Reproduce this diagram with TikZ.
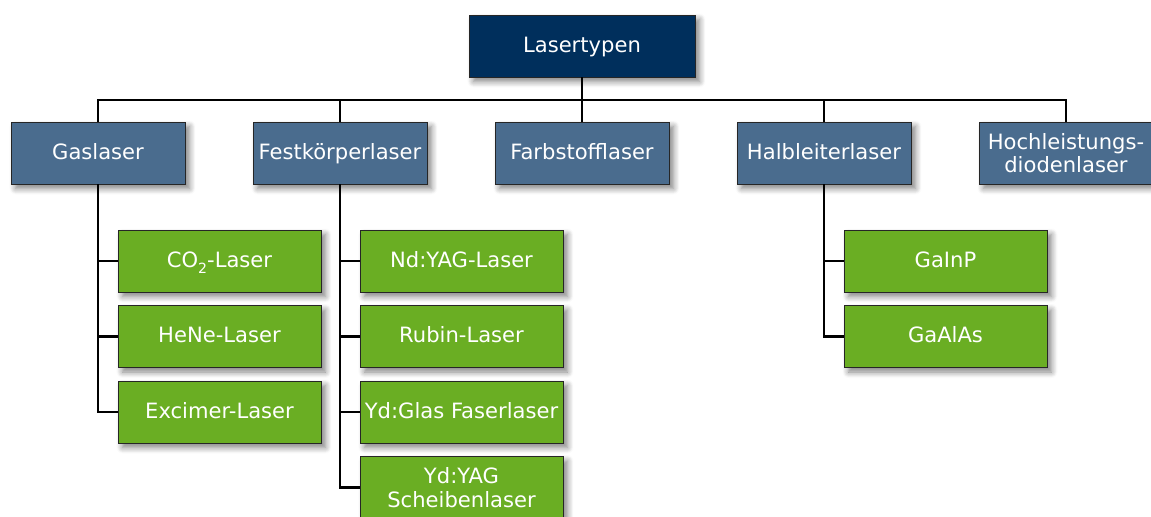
\documentclass[tikz,border=0pt]{standalone}
\usepackage{fontspec}
\setmainfont{DejaVu Sans}
\usepackage{tikz}
\usetikzlibrary{positioning,shadows.blur}
\definecolor{rootblue}{RGB}{0,47,92}
\definecolor{typeblue}{RGB}{74,108,142}
\definecolor{lasergreen}{RGB}{106,174,35}
\tikzstyle{boxshadow}   = [blur shadow={shadow xshift=0.09cm, shadow yshift=-0.09cm, shadow blur steps=8, shadow blur radius=0.12cm, shadow opacity=50}]
\tikzstyle{box}         = [rectangle, text centered, draw=black!85, text=white, inner xsep=1pt, minimum height=1.24cm, boxshadow]
\tikzstyle{oneline}     = [text height=1.8ex, text depth=0.45ex]
\tikzstyle{rootbox}     = [box, oneline, fill=rootblue, minimum width=4.52cm]
\tikzstyle{typebox}     = [box, oneline, fill=typeblue, minimum width=3.48cm]
\tikzstyle{typeboxtwo}  = [box, align=center, fill=typeblue, minimum width=3.48cm]
\tikzstyle{laserbox}    = [box, oneline, fill=lasergreen, minimum width=4.06cm]
\tikzstyle{laserboxtwo} = [box, align=center, fill=lasergreen, minimum width=4.06cm]
\tikzstyle{line}        = [draw=black, line width=1.4pt]

\begin{document}
\begin{tikzpicture}[node distance=2cm, font=\fontsize{12}{13.4}\selectfont]
            \useasboundingbox (-11.64,0.92) rectangle (11.38,-9.40);
            %Create root and laser types
            \node (lasertypen)   [rootbox] {Lasertypen};
            \node (farbstoff)    [typebox, below of = lasertypen, yshift=-0.14cm] {Farbstofflaser};
            \node (festkoerper)  [typebox, left of = farbstoff, xshift=-2.84cm]   {Festkörperlaser};
            \node (gaslaser)     [typebox, left of = festkoerper, xshift=-2.84cm] {Gaslaser};
            \node (halbleiter)   [typebox, right of = farbstoff, xshift=2.84cm]   {Halbleiterlaser};
            \node (hochleistung) [typeboxtwo, right of = halbleiter, xshift=2.84cm] {Hochleistungs-\\diodenlaser};
            \coordinate[below of = lasertypen, yshift=0.92cm] (bus);
            %Create gas lasers
            \node (co2)      [laserbox, below of = gaslaser, xshift=2.43cm, yshift=-0.16cm] {CO\raisebox{-0.55ex}{\footnotesize 2}-Laser};
            \node (hene)     [laserbox, below of = co2, yshift=0.49cm]  {HeNe-Laser};
            \node (excimer)  [laserbox, below of = hene, yshift=0.49cm] {Excimer-Laser};
            %Create solid state lasers
            \node (ndyag)    [laserbox, below of = festkoerper, xshift=2.43cm, yshift=-0.16cm] {Nd:YAG-Laser};
            \node (rubin)    [laserbox, below of = ndyag, yshift=0.49cm] {Rubin-Laser};
            \node (faser)    [laserbox, below of = rubin, yshift=0.49cm] {Yd:Glas Faserlaser};
            \node (scheibe)  [laserboxtwo, below of = faser, yshift=0.49cm] {Yd:YAG\\Scheibenlaser};
            %Create semiconductor lasers
            \node (gainp)    [laserbox, below of = halbleiter, xshift=2.43cm, yshift=-0.16cm] {GaInP};
            \node (gaalas)   [laserbox, below of = gainp, yshift=0.49cm] {GaAlAs};
            %Connect root to laser types
            \draw [line] (lasertypen.south) -- (bus) -| (gaslaser.north);
            \draw [line] (lasertypen.south) -- (bus) -| (festkoerper.north);
            \draw [line] (lasertypen.south) -- (farbstoff.north);
            \draw [line] (lasertypen.south) -- (bus) -| (halbleiter.north);
            \draw [line] (lasertypen.south) -- (bus) -| (hochleistung.north);
            %Connect laser types to lasers
            \draw [line] (gaslaser.south)    |- (co2.west);
            \draw [line] (gaslaser.south)    |- (hene.west);
            \draw [line] (gaslaser.south)    |- (excimer.west);
            \draw [line] (festkoerper.south) |- (ndyag.west);
            \draw [line] (festkoerper.south) |- (rubin.west);
            \draw [line] (festkoerper.south) |- (faser.west);
            \draw [line] (festkoerper.south) |- (scheibe.west);
            \draw [line] (halbleiter.south)  |- (gainp.west);
            \draw [line] (halbleiter.south)  |- (gaalas.west);
        \end{tikzpicture}
\end{document}
